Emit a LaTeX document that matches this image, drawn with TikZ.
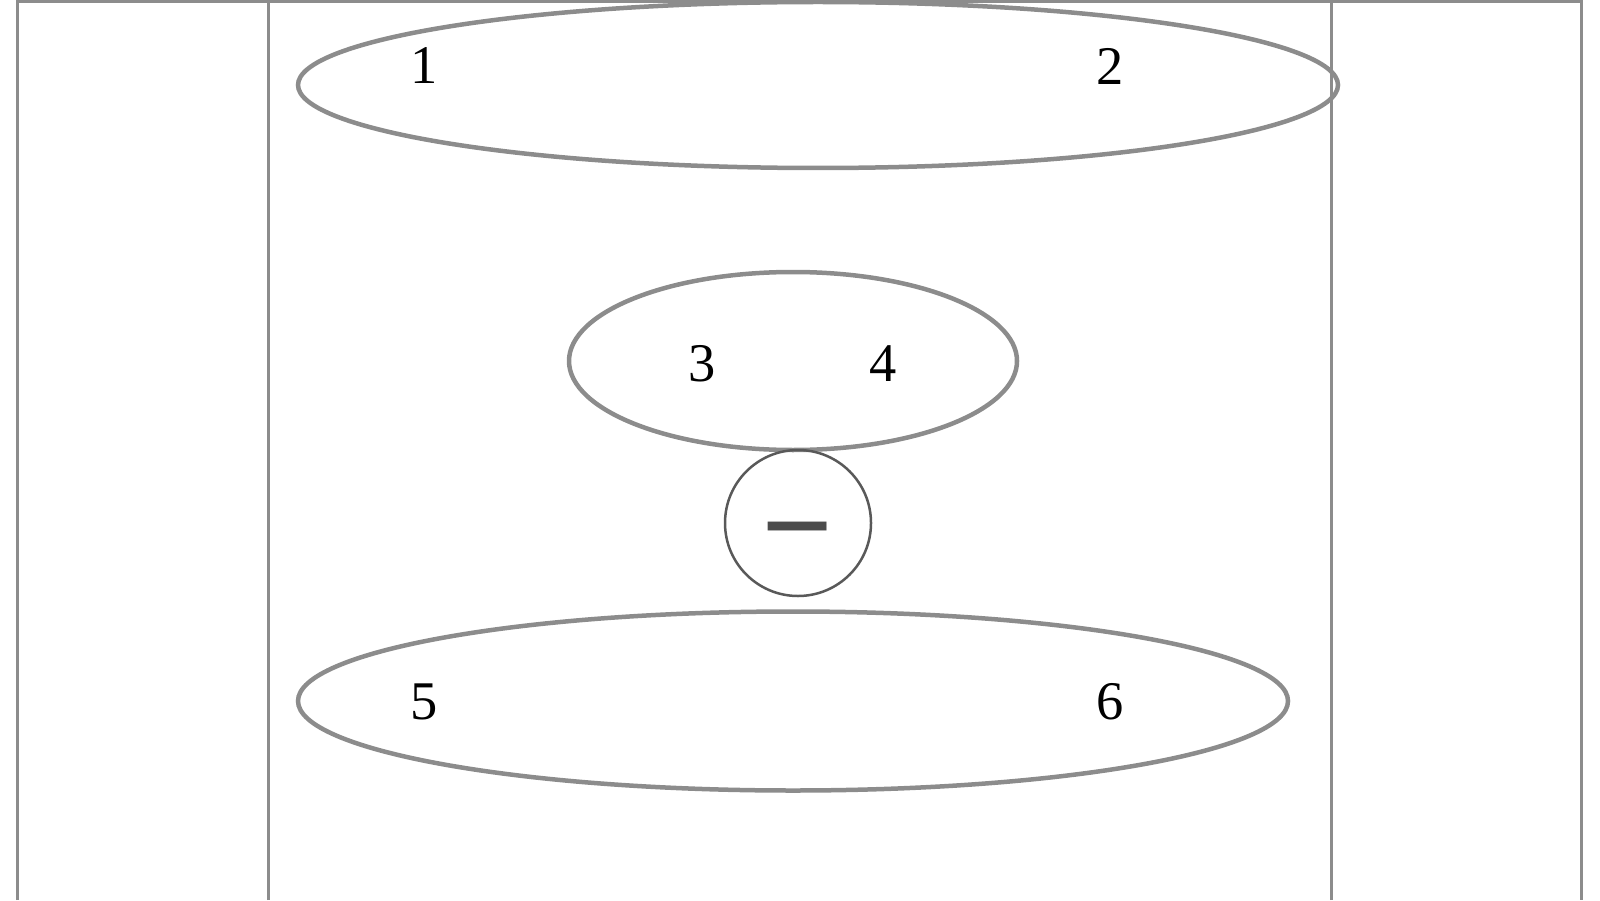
\documentclass[tikz,border=0pt]{standalone}
\usepackage{fontspec}
\setmainfont{Liberation Serif}
\usetikzlibrary{shapes.geometric}

\begin{document}
\begin{tikzpicture}[
	frame/.style={
		draw=black!45,
		line width=0.03cm,
	},
	ring/.style={
		ellipse,
		draw=black!45,
		line width=0.045cm,
		inner sep=0pt,
	},
	num/.style={
		font=\fontsize{15.5}{18}\selectfont,
		inner sep=0pt,
	}
]
\useasboundingbox (0,0) rectangle (16,9);

\draw[frame] (0.18,0) -- (0.18,8.985) -- (15.81,8.985) -- (15.81,0);
\draw[frame] (2.68,0) -- (2.68,8.985);
\draw[frame] (13.31,0) -- (13.31,8.985);

\node[ring, minimum width=10.4cm, minimum height=1.66cm] (top) at (8.18,8.15) {};
\node[ring, minimum width=4.48cm, minimum height=1.78cm] (mid) at (7.93,5.39) {};
\node[ring, minimum width=9.9cm, minimum height=1.79cm] (bot) at (7.93,1.99) {};
\node[circle, draw=black!65, line width=0.025cm, minimum size=1.46cm, inner sep=0pt,
	text=black!70, font=\fontsize{36}{38}\selectfont\bfseries] (neg) at (7.98,3.77) {\smash{\raisebox{-0.45cm}{−}}};

\node[num] (n1) at (4.24,8.34) {1};
\node[num] (n2) at (11.10,8.34) {2};
\node[num] (n3) at (7.02,5.36) {3};
\node[num] (n4) at (8.83,5.36) {4};
\node[num] (n5) at (4.24,1.98) {5};
\node[num] (n6) at (11.10,1.98) {6};

\end{tikzpicture}
\end{document}
